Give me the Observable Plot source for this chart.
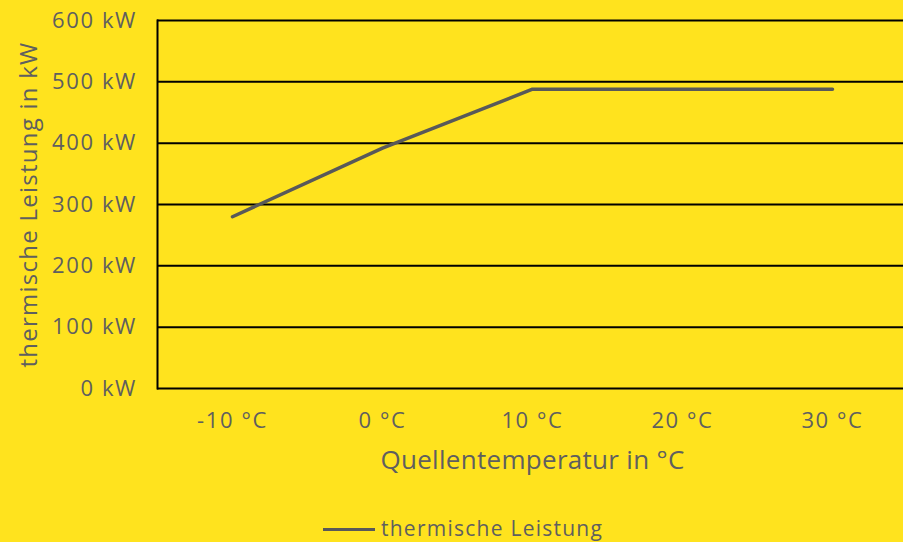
<!DOCTYPE html>
<html>
<head>
<meta charset="utf-8">
<script src="https://cdn.jsdelivr.net/npm/d3@7"></script>
<script src="https://cdn.jsdelivr.net/npm/@observablehq/plot@0.6"></script>
<style>
  html, body { margin: 0; padding: 0; background: #FFE31E; overflow: hidden; width: 903px; height: 542px; }
  #chart { width: 903px; height: 500px; overflow: hidden; }
  #chart svg { display: block; max-width: none !important; }
  #chart svg g[aria-label="y-axis tick label"] text, #chart svg g[aria-label="x-axis tick label"] text { letter-spacing: 1.6px; }
  #chart svg [aria-label="y-title"], #chart svg [aria-label="y-title"] text { letter-spacing: 1.25px; }
  #chart svg [aria-label="x-title"], #chart svg [aria-label="x-title"] text { letter-spacing: 0.3px; }
  #legend { position: absolute; left: 0; top: 512px; width: 903px; height: 30px; font-family: "Open Sans", sans-serif; font-size: 21px; color: #5f5f5f; letter-spacing: 1.25px; }
  #legend .swatch { position: absolute; left: 323px; top: 16px; width: 52px; height: 3px; background: #595959; }
  #legend .lbl { position: absolute; left: 381px; top: 2px; line-height: 28px; white-space: nowrap; }
</style>
</head>
<body>
<div id="chart"></div>
<div id="legend"><div class="swatch"></div><div class="lbl">thermische Leistung</div></div>
<script>
const temperatures = [-10, 0, 10, 20, 30];
const leistung = [280, 392, 488, 488, 488];
const yTicks = [0, 100, 200, 300, 400, 500, 600];
const seriesName = "thermische Leistung";
const xTitle = "Quellentemperatur in °C";
const yTitle = "thermische Leistung in kW";

const data = temperatures.map((t, i) => ({t, v: leistung[i]}));

const chart = Plot.plot({
  width: 908,
  height: 500,
  marginLeft: 157,
  marginRight: 1,
  marginTop: 20,
  marginBottom: 112,
  style: {background: "transparent", fontFamily: "'Open Sans', sans-serif", fontSize: "22px", color: "#5f5f5f", overflow: "visible", maxWidth: "none"},
  x: {type: "point", domain: temperatures, padding: 0.5, label: null},
  y: {domain: [0, 600], label: null},
  marks: [
    Plot.ruleY(yTicks, {stroke: "black", strokeWidth: 2}),
    Plot.frame({anchor: "left", stroke: "black", strokeWidth: 2}),
    Plot.axisY({ticks: yTicks, tickSize: 0, tickPadding: 20.5, tickFormat: d => `${d} kW`, label: null, fontSize: 22}),
    Plot.text([yTitle], {text: d => d, frameAnchor: "left", dx: -138, rotate: -90, textAnchor: "middle", lineAnchor: "top", fontSize: 24, fill: "#5f5f5f", ariaLabel: () => "y-title"}),
    Plot.axisX({tickSize: 0, tickPadding: 24, tickFormat: d => `${d} °C`, label: null, fontSize: 22}),
    Plot.text([xTitle], {text: d => d, frameAnchor: "bottom", dy: 80, lineAnchor: "bottom", fontSize: 26, fill: "#5f5f5f", ariaLabel: () => "x-title"}),
    Plot.line(data, {x: "t", y: "v", stroke: "#595959", strokeWidth: 3.5})
  ]
});
document.getElementById("chart").appendChild(chart);
</script>
</body>
</html>
